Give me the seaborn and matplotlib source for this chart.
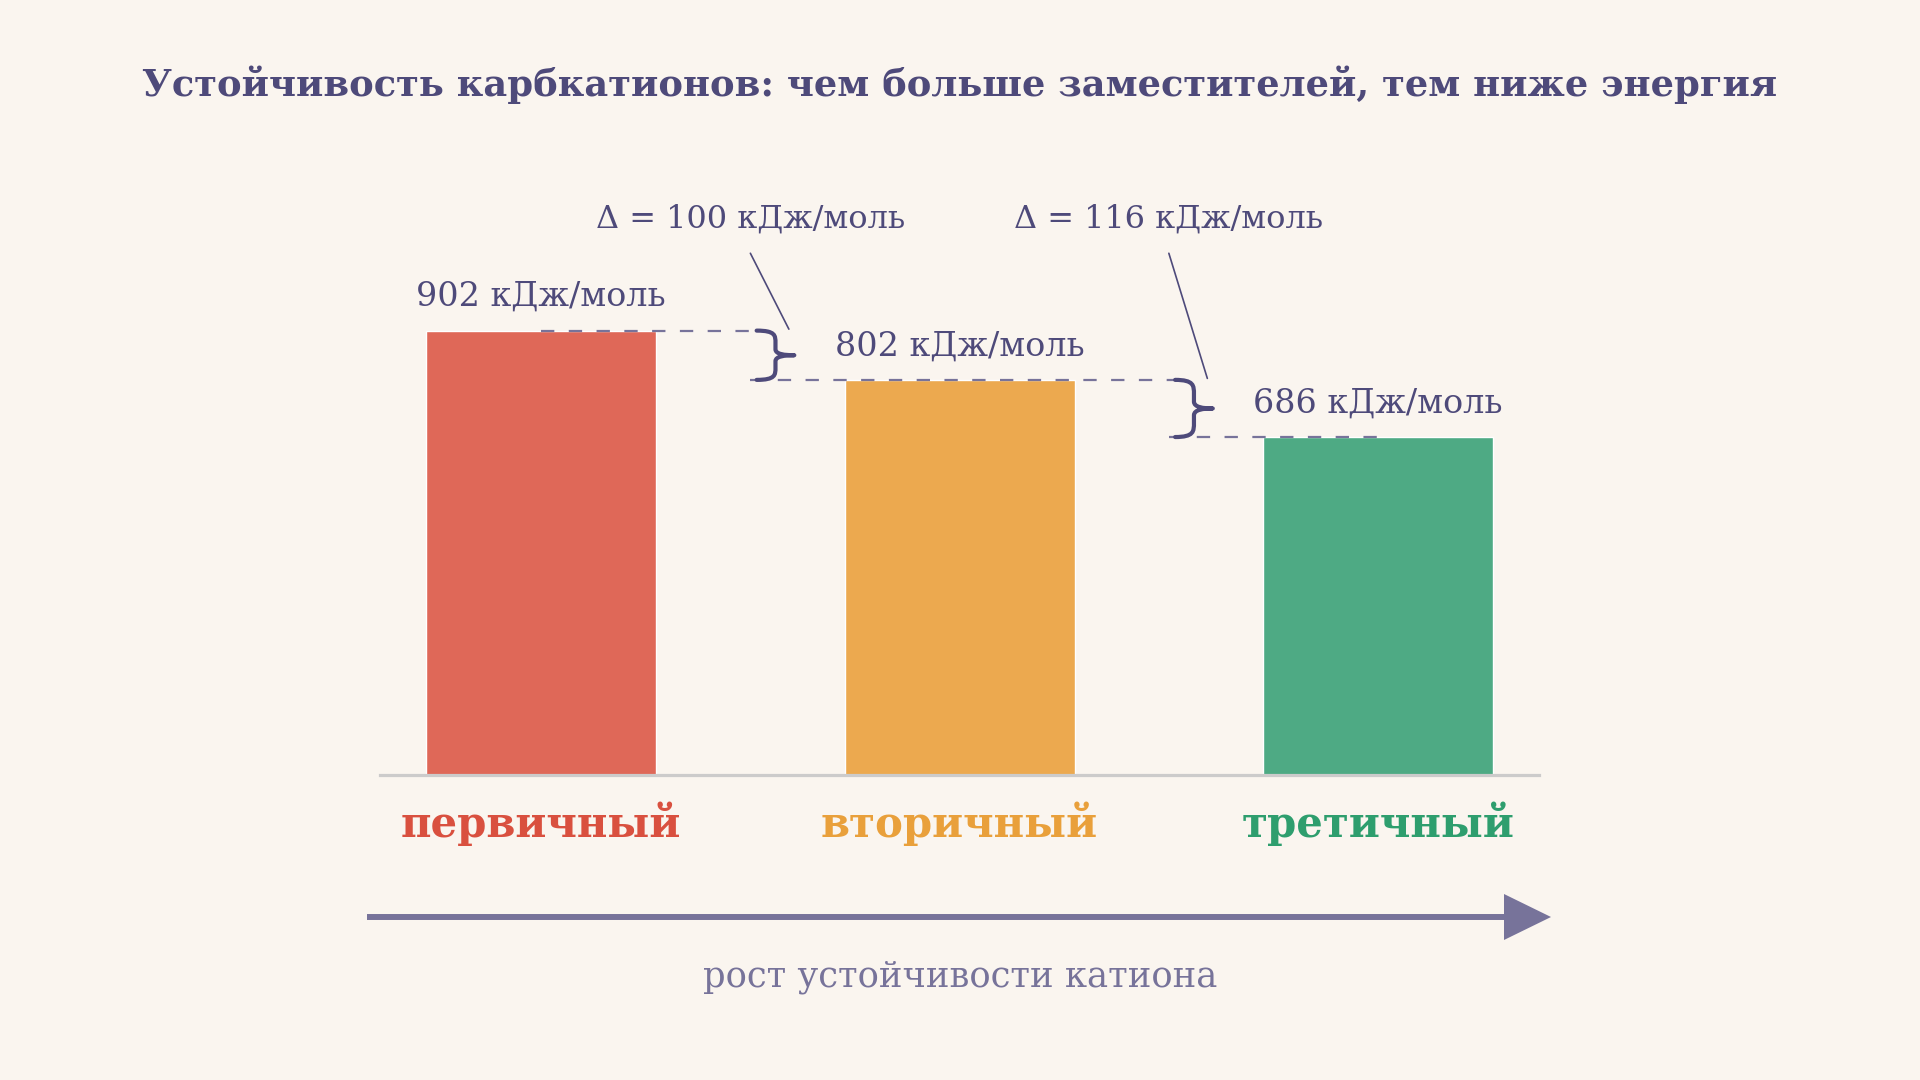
import numpy as np
import seaborn as sns
import matplotlib.pyplot as plt
from matplotlib.path import Path
from matplotlib.patches import PathPatch, Polygon
from matplotlib.lines import Line2D

# data
categories = ["первичный", "вторичный", "третичный"]
energies = [902, 802, 686]
unit = "кДж/моль"
title = "Устойчивость карбкатионов: чем больше заместителей, тем ниже энергия"
arrow_label = "рост устойчивости катиона"

bar_colors = ["#DF6858", "#ECA94F", "#4EAA84"]
label_colors = ["#D9503F", "#E9A03B", "#2E9E6E"]
INK = "#4E4A7A"
MUTED = "#77739A"
BG = "#FAF5EF"

sns.set_theme(style="white")
plt.rcParams['font.family'] = ['DejaVu Serif', 'DejaVu Sans']


def draw_brace(ax, x0, x1, y_top, y_bot, color):
    # right-pointing curly brace "}" between two levels
    w = x1 - x0
    h = y_top - y_bot
    ym = (y_top + y_bot) / 2
    xm = x0 + w * 0.5
    verts = [
        (x0, y_top),
        (xm, y_top), (xm, y_top - 0.1 * h), (xm, y_top - 0.25 * h),
        (xm, ym + 0.12 * h),
        (xm, ym + 0.02 * h), (x0 + 0.75 * w, ym), (x1, ym),
        (x0 + 0.75 * w, ym), (xm, ym - 0.02 * h), (xm, ym - 0.12 * h),
        (xm, y_bot + 0.25 * h),
        (xm, y_bot + 0.1 * h), (xm, y_bot), (x0, y_bot),
    ]
    C, L = Path.CURVE4, Path.LINETO
    codes = [Path.MOVETO, C, C, C, L, C, C, C, C, C, C, L, C, C, C]
    ax.add_patch(PathPatch(Path(verts, codes), fill=False, edgecolor=color,
                           lw=3.0, capstyle='round', joinstyle='round',
                           zorder=4, clip_on=False))


fig = plt.figure(figsize=(19.2, 10.8), dpi=100, facecolor=BG)
ax = fig.add_axes([379.6 / 1920, 305 / 1080, 1159.6 / 1920, 655 / 1080])
ax.set_facecolor(BG)

sns.barplot(x=categories, y=energies, hue=categories, palette=bar_colors,
            width=0.55, saturation=1, legend=False, ax=ax, zorder=2)
ax.set_xlim(-0.386, 2.385)
ax.set_ylim(0, 1329.5)
sns.despine(ax=ax, left=True)
ax.spines['bottom'].set_color('#CCCBCB')
ax.spines['bottom'].set_linewidth(2.3)
ax.tick_params(bottom=False, labelbottom=False, left=False, labelleft=False)
ax.set_xlabel('')
ax.set_ylabel('')

x_idx = np.arange(len(energies))
gaps = (x_idx[:-1] + x_idx[1:]) / 2

# dashed level lines
starts = [x_idx[0]] + list(gaps)
ends = [g + 0.045 for g in gaps] + [x_idx[-1]]
for e, s, t in zip(energies, starts, ends):
    ax.plot([s, t], [e, e], color=MUTED, lw=1.6, ls=(0, (6.0, 6.5)),
            zorder=3, clip_on=False)

# value labels
for i, e in enumerate(energies):
    ax.text(x_idx[i], e + 50, f"{e} {unit}", ha='center', va='baseline',
            fontsize=24, color=INK, zorder=5)

# braces, leaders and delta labels
for i, g in enumerate(gaps):
    top, bot = energies[i], energies[i + 1]
    draw_brace(ax, g + 0.015, g + 0.105, top, bot, INK)
    ax.plot([g, g + 0.092], [1059, top + 3], color=INK, lw=1.2, zorder=4,
            clip_on=False)
    ax.text(g, 1112, f"Δ = {top - bot} {unit}", ha='center', va='baseline',
            fontsize=23, color=INK, zorder=5)

# category labels
for i, c in enumerate(categories):
    ax.text(x_idx[i], -126, c, ha='center', va='baseline', fontsize=30.2,
            fontweight='bold', color=label_colors[i], clip_on=False)

# title
fig.text(0.5, 1 - 95.5 / 1080, title, ha='center', va='baseline',
         fontsize=26.6, fontweight='bold', color=INK)

# stability arrow
ya = 1 - 917 / 1080
fig.add_artist(Line2D([367 / 1920, 1506 / 1920], [ya, ya], color=MUTED,
                      lw=4.3, solid_capstyle='butt',
                      transform=fig.transFigure))
fig.add_artist(Polygon([(1504 / 1920, ya + 23 / 1080), (1551 / 1920, ya),
                        (1504 / 1920, ya - 23 / 1080)], closed=True,
                       facecolor=MUTED, edgecolor='none',
                       transform=fig.transFigure))
fig.text(0.5, 1 - 986 / 1080, arrow_label, ha='center', va='baseline',
         fontsize=25.5, color=MUTED)

fig.savefig("out.png", dpi=100, facecolor=BG)
